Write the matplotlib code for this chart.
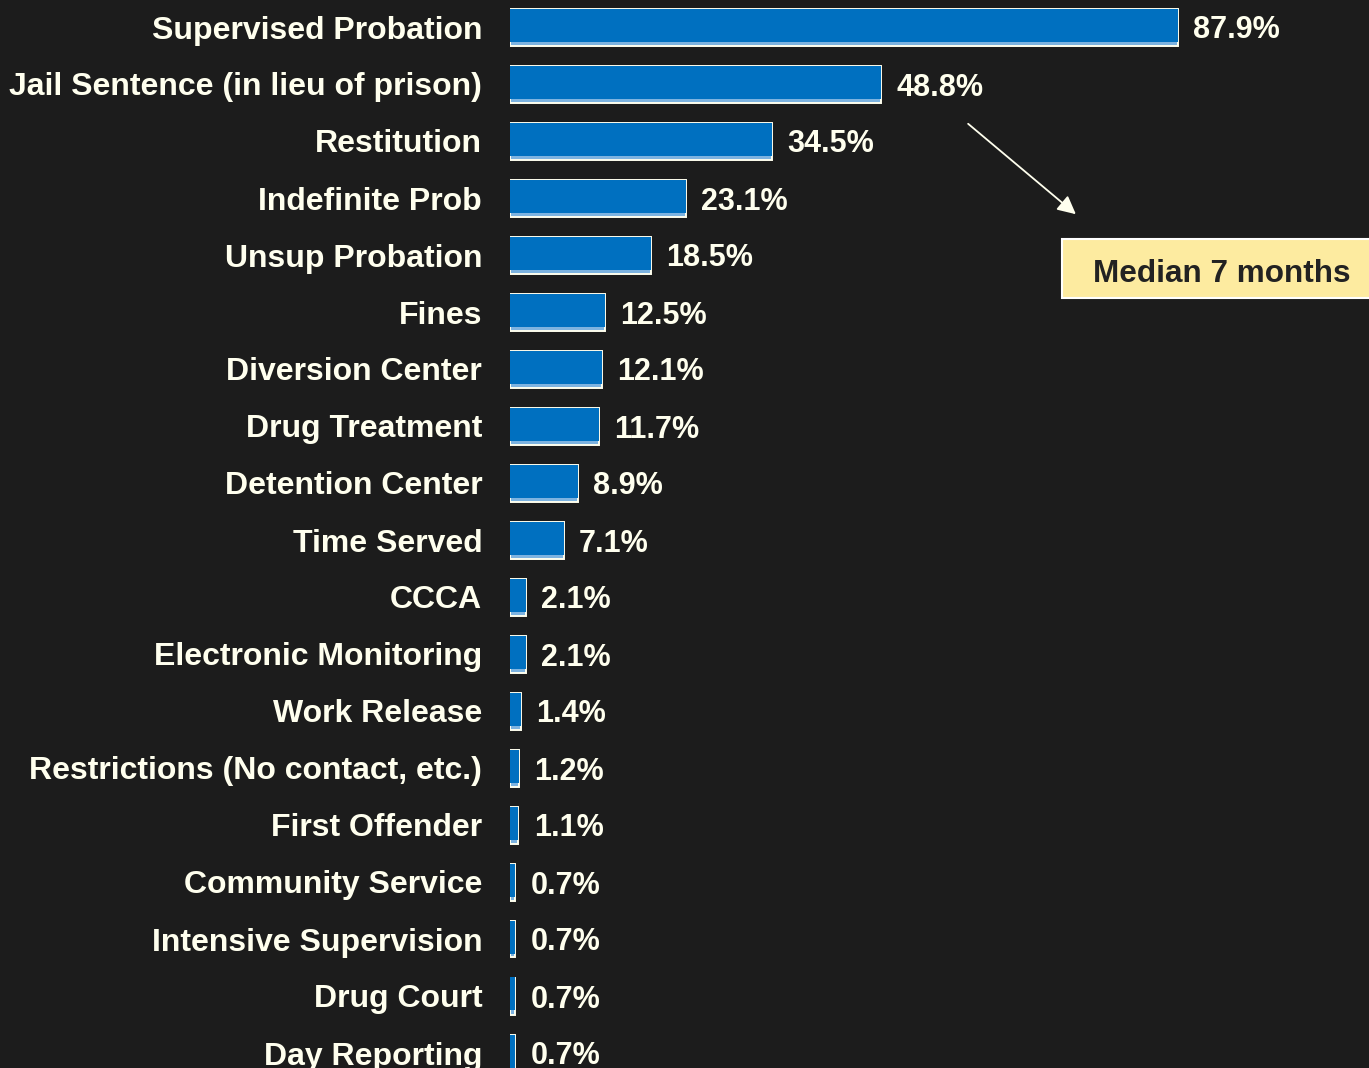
import matplotlib
matplotlib.use("Agg")
import matplotlib.pyplot as plt
from matplotlib.patches import Rectangle

categories = ["Supervised Probation", "Jail Sentence (in lieu of prison)", "Restitution",
              "Indefinite Prob", "Unsup Probation", "Fines", "Diversion Center",
              "Drug Treatment", "Detention Center", "Time Served", "CCCA",
              "Electronic Monitoring", "Work Release", "Restrictions (No contact, etc.)",
              "First Offender", "Community Service", "Intensive Supervision",
              "Drug Court", "Day Reporting"]
values = [87.9, 48.8, 34.5, 23.1, 18.5, 12.5, 12.1, 11.7, 8.9, 7.1, 2.1, 2.1,
          1.4, 1.2, 1.1, 0.7, 0.7, 0.7, 0.7]
annotation_text = "Median 7 months"

BG = "#1c1c1c"
CREAM = "#FFFFEE"
BLUE = "#0070C0"
LIGHTBLUE = "#7DB3E0"

W, H = 1369, 1068
fig = plt.figure(figsize=(W / 100, H / 100), dpi=100, facecolor=BG)
left = 510 / W
ax = fig.add_axes([left, 0, 1 - left, 1])
ax.set_facecolor(BG)

px_per_unit = 7.6
ax.set_xlim(0, (W - 510) / px_per_unit)
row = 57.0
ax.set_ylim((H - 27) / row, -27 / row)

ypos = list(range(len(categories)))
h = 37 / row
d = 4 / row
ax.barh(ypos, values, height=h, color=LIGHTBLUE, edgecolor=CREAM, linewidth=1.4, zorder=2)
ax.barh([y - d / 2 for y in ypos], values, height=h - d, color=BLUE, linewidth=0, zorder=3)

for y, v in zip(ypos, values):
    ax.annotate(f"{v}%", xy=(v, y), xytext=(11, 0), textcoords="offset points",
                ha="left", va="center_baseline", color=CREAM, fontsize=22, fontweight="bold",
                family="Liberation Sans")

ax.set_yticks(ypos)
ax.set_yticklabels(categories, color=CREAM, fontsize=23, fontweight="bold",
                   family="Liberation Sans", va="center_baseline")
ax.tick_params(axis="y", length=0, pad=20)
ax.set_xticks([])
for s in ax.spines.values():
    s.set_visible(False)

# annotation box and arrow
fig.patches.append(Rectangle((1062 / W, 1 - 298 / H), (W - 1062 + 10) / W, 59 / H,
                             transform=fig.transFigure, facecolor="#FDEBA0",
                             edgecolor="#ffffff", linewidth=1.5, zorder=5))
fig.text(1222 / W, 1 - 271 / H, annotation_text, ha="center", va="center_baseline",
         fontsize=22.7, fontweight="bold", color="#222222", family="Liberation Sans", zorder=6)
ax.annotate("", xy=(1078 / W, 1 - 216 / H), xytext=(966 / W, 1 - 122 / H),
            xycoords="figure fraction", textcoords="figure fraction",
            arrowprops=dict(arrowstyle="-|>,head_length=1.1,head_width=0.55",
                            color=CREAM, lw=1.3))

fig.savefig("out.png", dpi=100, facecolor=BG)
